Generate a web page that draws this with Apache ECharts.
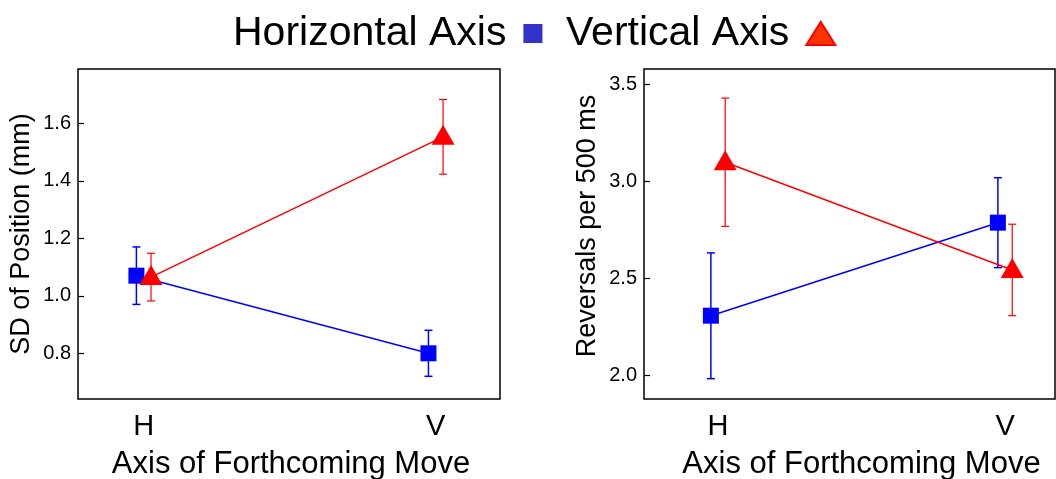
<!DOCTYPE html>
<html>
<head>
<meta charset="utf-8">
<script src="https://cdn.jsdelivr.net/npm/echarts@6/dist/echarts.min.js"></script>
<style>
  html, body { margin: 0; padding: 0; background: #fff; }
  #main { width: 1056px; height: 479px; }
</style>
</head>
<body>
<div id="main"></div>
<script>
  // categories (axis of forthcoming move)
  var groups = ['H', 'V'];

  // left panel: SD of position (mm)
  var sdHoriz = [1.07, 0.80];
  var sdHorizLo = [0.97, 0.72];
  var sdHorizHi = [1.17, 0.88];
  var sdVert = [1.065, 1.553];
  var sdVertLo = [0.982, 1.423];
  var sdVertHi = [1.148, 1.683];
  var sdTicks = [0.8, 1.0, 1.2, 1.4, 1.6];

  // right panel: reversals per 500 ms
  var revHoriz = [2.308, 2.788];
  var revHorizLo = [1.983, 2.556];
  var revHorizHi = [2.632, 3.02];
  var revVert = [3.10, 2.544];
  var revVertLo = [2.769, 2.308];
  var revVertHi = [3.431, 2.78];
  var revTicks = [2.0, 2.5, 3.0, 3.5];

  var FONT = 'Liberation Sans, Arial, Helvetica, sans-serif';
  var BLUE = '#0000ff', RED = '#ff0000';
  var dodge = 0.025;

  function pts(vals, off) {
    return vals.map(function (v, i) { return [i + 1 + off, v]; });
  }
  function bars(lo, hi, off) {
    return lo.map(function (l, i) { return [i + 1 + off, l, hi[i]]; });
  }
  function errSeries(idx, data, color, w) {
    return {
      type: 'custom', xAxisIndex: idx, yAxisIndex: idx, z: 1,
      silent: true, data: data,
      renderItem: function (params, api) {
        var x = api.value(0);
        var p1 = api.coord([x, api.value(1)]);
        var p2 = api.coord([x, api.value(2)]);
        var style = { stroke: color, lineWidth: w };
        return {
          type: 'group',
          children: [
            { type: 'line', shape: { x1: p1[0], y1: p1[1], x2: p2[0], y2: p2[1] }, style: style },
            { type: 'line', shape: { x1: p1[0] - 4, y1: p1[1], x2: p1[0] + 4, y2: p1[1] }, style: style },
            { type: 'line', shape: { x1: p2[0] - 4, y1: p2[1], x2: p2[0] + 4, y2: p2[1] }, style: style }
          ]
        };
      }
    };
  }
  function lineSeries(idx, name, data, color, sym, size, off) {
    return {
      name: name, type: 'line', xAxisIndex: idx, yAxisIndex: idx, z: 3,
      data: data, symbol: sym, symbolSize: size, symbolOffset: off,
      lineStyle: { color: color, width: 1.5 },
      itemStyle: { color: color },
      emphasis: { disabled: true }, animation: false
    };
  }
  function xAxis(idx, min, max, namePad) {
    return {
      type: 'value', gridIndex: idx, min: min, max: max,
      axisLine: { show: false }, axisTick: { show: false }, splitLine: { show: false },
      axisLabel: {
        customValues: [1, 2], margin: 13,
        color: '#000', fontSize: 29, fontFamily: FONT,
        formatter: function (v) { return groups[Math.round(v) - 1]; }
      },
      name: 'Axis of Forthcoming Move', nameLocation: 'middle', nameGap: 50,
      nameTextStyle: { color: '#000', fontSize: 31, fontFamily: FONT, padding: namePad }
    };
  }
  function yAxis(idx, min, max, ticks, name, namePad) {
    return {
      type: 'value', gridIndex: idx, min: min, max: max,
      axisLine: { show: false }, splitLine: { show: false },
      axisTick: { show: true, inside: true, length: 6, customValues: ticks,
        lineStyle: { color: '#000', width: 1.2 } },
      axisLabel: {
        customValues: ticks, margin: 7,
        color: '#000', fontSize: 20, fontFamily: FONT,
        formatter: function (v) { return v.toFixed(1); }
      },
      name: name, nameLocation: 'middle', nameGap: 43,
      nameTextStyle: { color: '#000', fontSize: 27, fontFamily: FONT, padding: namePad }
    };
  }

  var chart = echarts.init(document.getElementById('main'));
  chart.setOption({
    backgroundColor: '#fff',
    animation: false,
    legend: [
      {
        left: 228, top: 8, align: 'right',
        itemWidth: 19, itemHeight: 19,
        textStyle: { color: '#000', fontSize: 41, fontFamily: FONT, padding: [0, 12, 0, 0] },
        data: [{ name: 'Horizontal Axis', icon: 'rect', itemStyle: { color: '#3333cc', borderWidth: 0 } }]
      },
      {
        left: 561, top: 8, align: 'right',
        itemWidth: 29, itemHeight: 23,
        textStyle: { color: '#000', fontSize: 41, fontFamily: FONT, padding: [0, 12, 0, 0] },
        data: [{ name: 'Vertical Axis', icon: 'triangle',
          itemStyle: { color: '#ff3300', borderColor: '#ff0000', borderWidth: 2 } }]
      }
    ],
    grid: [
      { left: 78, right: 556, top: 69, bottom: 80, outerBoundsMode: 'none', show: true,
        borderColor: '#000', borderWidth: 1.5, backgroundColor: 'transparent' },
      { left: 644, right: 1, top: 69, bottom: 80, outerBoundsMode: 'none', show: true,
        borderColor: '#000', borderWidth: 1.5, backgroundColor: 'transparent' }
    ],
    xAxis: [xAxis(0, 0.775, 2.22, [0, 0, 0, 4]), xAxis(1, 0.742, 2.174, [0, 0, 0, 24])],
    yAxis: [
      yAxis(0, 0.641, 1.789, sdTicks, 'SD of Position (mm)', [0, 0, 0, 0]),
      yAxis(1, 1.878, 3.581, revTicks, 'Reversals per 500 ms', [0, 0, 0, 16])
    ],
    series: [
      errSeries(0, bars(sdHorizLo, sdHorizHi, -dodge), BLUE, 1.5),
      errSeries(0, bars(sdVertLo, sdVertHi, dodge), RED, 1.2),
      lineSeries(0, 'Horizontal Axis', pts(sdHoriz, -dodge), BLUE, 'rect', 16, [0, 0]),
      lineSeries(0, 'Vertical Axis', pts(sdVert, dodge), RED, 'triangle', [23, 20], [0, -2]),
      errSeries(1, bars(revHorizLo, revHorizHi, -dodge), BLUE, 1.5),
      errSeries(1, bars(revVertLo, revVertHi, dodge), RED, 1.2),
      lineSeries(1, 'Horizontal Axis', pts(revHoriz, -dodge), BLUE, 'rect', 16, [0, 0]),
      lineSeries(1, 'Vertical Axis', pts(revVert, dodge), RED, 'triangle', [23, 20], [0, -2])
    ]
  });
</script>
</body>
</html>
